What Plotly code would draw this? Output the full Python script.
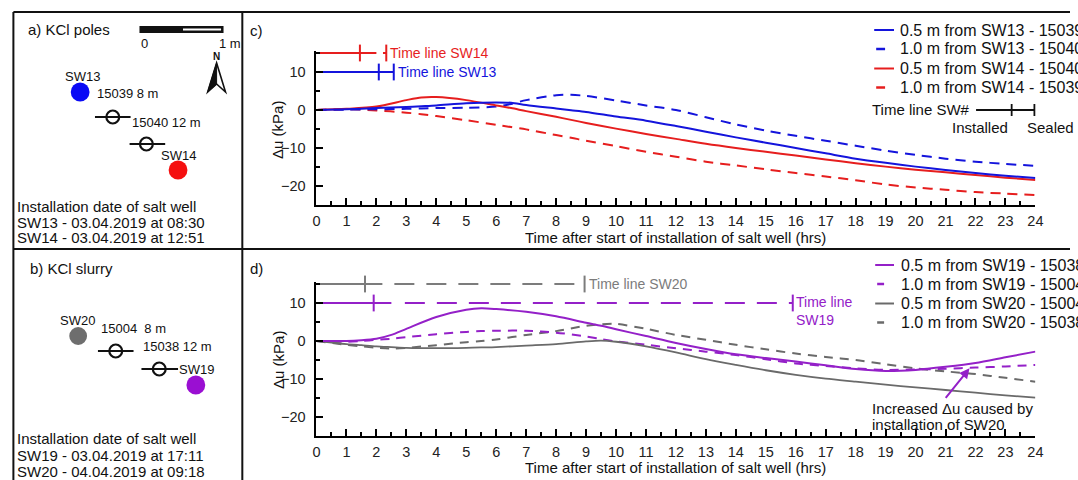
import plotly.graph_objects as go

W, H = 1078, 480
FONT = "Liberation Sans, Arial, sans-serif"

# ---------------- data: panel c ----------------
t_c = [0, 1, 2, 3, 3.5, 4, 5, 6, 6.5, 7, 8, 8.5, 9, 10, 11, 12, 13, 14, 15, 16, 17, 18, 19, 20, 21, 22, 23, 24]
sw13_05 = [0, 0.2, 0.5, 0.8, 1.0, 1.2, 1.8, 2.0, 1.9, 1.3, 0.4, -0.05, -0.5, -1.7, -2.8, -4.2, -5.7, -7.2, -8.6, -10.0, -11.4, -12.8, -13.9, -14.9, -15.8, -16.6, -17.3, -17.9]
sw13_10 = [0, 0.1, 0.2, 0.3, 0.4, 0.5, 0.6, 0.9, 1.6, 2.6, 3.9, 4.0, 3.7, 2.5, 1.2, 0.0, -1.9, -3.8, -5.4, -6.8, -8.1, -9.4, -10.7, -11.8, -12.8, -13.6, -14.2, -14.7]
sw14_05 = [0, 0.3, 0.9, 2.6, 3.3, 3.4, 2.6, 1.2, 0.5, -0.3, -1.8, -2.6, -3.4, -4.9, -6.3, -7.6, -8.9, -10.0, -11.0, -12.0, -13.0, -14.0, -14.9, -15.7, -16.4, -17.1, -17.8, -18.4]
sw14_10 = [0, 0.2, -0.1, -0.7, -1.1, -1.6, -2.7, -3.9, -4.5, -5.1, -6.6, -7.3, -8.1, -9.5, -11.0, -12.3, -13.6, -14.6, -15.6, -16.6, -17.5, -18.5, -19.6, -20.4, -21.0, -21.6, -22.0, -22.4]

# ---------------- data: panel d ----------------
t_d = [0, 1, 1.5, 2, 2.5, 3, 4, 5, 5.5, 6, 7, 8, 9, 9.5, 10, 11, 12, 13, 14, 15, 16, 17, 18, 19, 20, 21, 22, 23, 24]
sw19_05 = [0, 0.0, 0.2, 0.6, 1.6, 3.2, 6.3, 8.2, 8.6, 8.4, 7.7, 6.5, 4.8, 4.0, 3.1, 1.3, -0.5, -2.1, -3.5, -4.5, -5.4, -6.4, -7.4, -7.9, -7.6, -6.8, -5.8, -4.3, -2.8]
sw19_10 = [0, -0.2, 0.0, 0.3, 0.6, 1.0, 1.8, 2.4, 2.6, 2.7, 2.7, 2.2, 1.2, 0.5, -0.1, -1.0, -1.9, -2.8, -3.7, -4.8, -5.9, -6.6, -7.2, -7.6, -7.5, -7.3, -7.0, -6.7, -6.3]
sw20_05 = [0, -0.8, -1.1, -1.4, -1.6, -1.8, -1.9, -1.8, -1.7, -1.6, -1.2, -0.8, -0.1, 0.1, -0.2, -1.4, -3.0, -4.8, -6.3, -7.7, -8.9, -9.9, -10.7, -11.5, -12.2, -12.9, -13.6, -14.3, -14.9]
sw20_10 = [0, -1.0, -1.4, -1.8, -2.0, -1.8, -1.1, -0.3, 0.0, 0.4, 1.6, 2.6, 4.0, 4.4, 4.5, 3.2, 1.6, 0.3, -1.0, -2.2, -3.3, -4.2, -5.0, -6.1, -7.2, -8.0, -8.7, -9.7, -10.7]

# time lines: [level, solid_end, dash_start, installed, sealed]
tl_sw14 = [15, 2.0, 2.22, 1.45, 2.33]
tl_sw13 = [10, 2.58, 2.58, 2.08, 2.58]
tl_sw20 = [15, 2.2, 2.6, 1.62, 8.95]
tl_sw19 = [10, 2.5, 2.95, 1.91, 15.9]

hour_ticks = list(range(0, 25))
du_ticks = [-20, -10, 0, 10]

BLUE = "#1414dc"
RED = "#e61e1e"
PURPLE = "#9420c8"
GREY = "#6a6a6a"
GREY_TL = "#7c7c7c"

# pixel geometry
X0, X1 = 316, 1043
PPK = 3.8
YMIN, YMAX = -25, 15.4
C_BOT = 205
D_BOT = 436


def px(x):
    return x / W


def py(y):
    return 1 - y / H


fig = go.Figure()


def curve(x, y, color, dash, xa, ya, width=2):
    fig.add_trace(go.Scatter(x=x, y=y, mode="lines", xaxis=xa, yaxis=ya,
                             line=dict(color=color, width=width, dash=dash, shape="spline", smoothing=0.8),
                             showlegend=False, hoverinfo="skip"))


curve(t_c, sw14_10, RED, "10px,7px", "x", "y")
curve(t_c, sw13_10, BLUE, "10px,7px", "x", "y")
curve(t_c, sw14_05, RED, "solid", "x", "y")
curve(t_c, sw13_05, BLUE, "solid", "x", "y")

curve(t_d, sw20_10, GREY, "9px,7px", "x2", "y2", 2)
curve(t_d, sw19_10, PURPLE, "9px,7px", "x2", "y2")
curve(t_d, sw20_05, GREY, "solid", "x2", "y2", 1.8)
curve(t_d, sw19_05, PURPLE, "solid", "x2", "y2")


def timeline(tl, color, xa, ya, label, two_line=False):
    lvl, s_end, d_start, inst, seal = tl
    fig.add_trace(go.Scatter(x=[0, s_end], y=[lvl, lvl], mode="lines", xaxis=xa, yaxis=ya,
                             line=dict(color=color, width=2), showlegend=False, hoverinfo="skip",
                             cliponaxis=False))
    if seal > d_start:
        fig.add_trace(go.Scatter(x=[d_start, seal], y=[lvl, lvl], mode="lines", xaxis=xa, yaxis=ya,
                                 line=dict(color=color, width=2, dash="20px,12px"),
                                 showlegend=False, hoverinfo="skip", cliponaxis=False))
    fig.add_trace(go.Scatter(x=[inst, seal], y=[lvl, lvl], mode="markers", xaxis=xa, yaxis=ya,
                             marker=dict(symbol="line-ns", size=12, line=dict(color=color, width=2)),
                             showlegend=False, hoverinfo="skip", cliponaxis=False))
    if two_line:
        fig.add_annotation(x=seal, y=lvl, xref=xa, yref=ya, text=label, showarrow=False,
                           xanchor="left", yanchor="top", yshift=11, xshift=1, align="left",
                           font=dict(family=FONT, size=14, color=color))
    else:
        fig.add_annotation(x=seal, y=lvl, xref=xa, yref=ya, text=label, showarrow=False,
                           xanchor="left", yanchor="middle", xshift=2,
                           font=dict(family=FONT, size=14, color=color))


timeline(tl_sw14, RED, "x", "y", "Time line SW14")
timeline(tl_sw13, BLUE, "x", "y", "Time line SW13")
timeline(tl_sw20, GREY_TL, "x2", "y2", "Time line SW20")
timeline(tl_sw19, PURPLE, "x2", "y2", "Time line<br>SW19", two_line=True)

# axes
xdom = [px(X0), px(X1)]
c_dom = [py(C_BOT), py(C_BOT - (YMAX - YMIN) * PPK)]
d_dom = [py(D_BOT), py(D_BOT - (YMAX - YMIN) * PPK)]

xcommon = dict(range=[0, 24], tickmode="array", tickvals=hour_ticks, ticks="inside", ticklen=7,
               tickwidth=1.5, tickcolor="black", showline=True, linewidth=2, linecolor="black",
               showgrid=False, zeroline=False, tickfont=dict(family=FONT, size=14.5, color="#222"),
               minor=dict(tick0=0, dtick=0.5, ticks="inside", ticklen=4, tickwidth=1.5,
                          tickcolor="black", showgrid=False),
               ticklabelstandoff=2, domain=xdom)
ycommon = dict(range=[YMIN, YMAX], tickmode="array", tickvals=du_ticks, ticks="inside", ticklen=7,
               tickwidth=1.5, tickcolor="black", showline=True, linewidth=2, linecolor="black",
               showgrid=False, zeroline=False, tickfont=dict(family=FONT, size=14.5, color="#222"),
               minor=dict(tick0=0, dtick=5, ticks="inside", ticklen=4, tickwidth=1.5,
                          tickcolor="black", showgrid=False),
               ticklabelstandoff=6)

fig.update_layout(
    width=W, height=H, margin=dict(l=0, r=0, t=0, b=0), autosize=False,
    paper_bgcolor="white", plot_bgcolor="white",
    xaxis=dict(**xcommon, anchor="y"),
    yaxis=dict(**ycommon, domain=c_dom, anchor="x"),
    xaxis2=dict(**xcommon, anchor="y2"),
    yaxis2=dict(**ycommon, domain=d_dom, anchor="x2"),
    showlegend=False,
    font=dict(family=FONT, size=15, color="#111"),
)


def ptext(x, y, text, size=15, anchor="left", color="#111", bold=False):
    if bold:
        text = "<b>" + text + "</b>"
    fig.add_annotation(x=px(x), y=py(y), xref="paper", yref="paper", text=text, showarrow=False,
                       xanchor=anchor, yanchor="middle", font=dict(family=FONT, size=size, color=color),
                       borderpad=0)


def pline(x0, y0, x1, y1, color="#111", width=2, dash="solid"):
    fig.add_shape(type="line", xref="paper", yref="paper", x0=px(x0), y0=py(y0), x1=px(x1), y1=py(y1),
                  line=dict(color=color, width=width, dash=dash))


def pcircle(cx, cy, r, fill=None, color="#111", width=2):
    fig.add_shape(type="circle", xref="paper", yref="paper", x0=px(cx - r), x1=px(cx + r),
                  y0=py(cy + r), y1=py(cy - r), fillcolor=fill if fill else "rgba(0,0,0,0)",
                  line=dict(color=color if not fill else fill, width=width if not fill else 0))


def prect(x0, y0, x1, y1, fill, color=None, width=0):
    fig.add_shape(type="rect", xref="paper", yref="paper", x0=px(x0), x1=px(x1), y0=py(y1), y1=py(y0),
                  fillcolor=fill, line=dict(color=color or fill, width=width))


def ppath(points, fill=None, color="#111", width=1.5):
    d = "M " + " L ".join(f"{px(a):.5f} {py(b):.5f}" for a, b in points) + " Z"
    fig.add_shape(type="path", xref="paper", yref="paper", path=d,
                  fillcolor=fill if fill else "rgba(0,0,0,0)", line=dict(color=color, width=width))


# frame lines
pline(9.5, 12, W, 12)
pline(9.5, 12, 9.5, H)
pline(241, 12, 241, H)
pline(9.5, 249, W, 249)

# axis titles
ptext(679, 237.5, "Time after start of installation of salt well (hrs)", anchor="center")
ptext(679, 467, "Time after start of installation of salt well (hrs)", anchor="center")
for yc in (130, 360):
    fig.add_annotation(x=px(277), y=py(yc), xref="paper", yref="paper", text="Δu (kPa)", textangle=-90,
                       xanchor="center", yanchor="middle",
                       showarrow=False, font=dict(family=FONT, size=15, color="#111"))

# panel labels
ptext(248, 30, "c)")
ptext(248, 268, "d)")

# legend panel c
leg_c = [("0.5 m from SW13 - 15039", BLUE, False), ("1.0 m from SW13 - 15040", BLUE, True),
         ("0.5 m from SW14 - 15040", RED, False), ("1.0 m from SW14 - 15039", RED, True)]
for (lab, col, dsh), yy in zip(leg_c, [30, 49, 68.5, 87.5]):
    if dsh:
        pline(882, yy, 891, yy, color=col, width=2.5)
    else:
        pline(880, yy, 900, yy, color=col, width=2)
    ptext(905, yy, lab, size=16)
ptext(877, 110, "Time line SW#")
pline(983, 110, 1042, 110, width=1.8)
pline(1019, 104, 1019, 116, width=1.8)
pline(1042, 104, 1042, 116, width=1.8)
ptext(987, 127, "Installed", anchor="center")
ptext(1033, 127, "Sealed")

# legend panel d
leg_d = [("0.5 m from SW19 - 15038", PURPLE, False), ("1.0 m from SW19 - 15004", PURPLE, True),
         ("0.5 m from SW20 - 15004", GREY, False), ("1.0 m from SW20 - 15038", GREY, True)]
for (lab, col, dsh), yy in zip(leg_d, [265, 284, 303.5, 322.5]):
    if dsh:
        pline(883, yy, 890, yy, color=col, width=2.5)
    else:
        pline(881, yy, 900, yy, color=col, width=2)
    ptext(906, yy, lab, size=16)

# annotation with arrow
fig.add_annotation(x=21.8, y=-7.2, xref="x2", yref="y2", ax=-25, ay=31, axref="pixel", ayref="pixel",
                   text="", showarrow=True, arrowhead=2, arrowsize=1, arrowwidth=2, arrowcolor=PURPLE)
ptext(877, 408, "Increased Δu caused by")
ptext(877, 424, "installation of SW20")

# ---------------- panel a ----------------
ptext(23, 29, "a) KCl poles")
prect(137, 26, 222, 33, "#111")
prect(181, 28.6, 219.5, 30.6, "white")
ptext(142, 43, "0", size=13, anchor="center")
ptext(229, 43, "1 m", size=13, anchor="center")
ptext(214.5, 56, "N", size=10, anchor="center", bold=True)
ppath([(215, 63), (206, 92), (215, 84)], fill="#111", color="#111", width=1)
ppath([(215, 63), (206, 92), (215, 84), (224, 92)], color="#111", width=1.6)
ptext(79, 76, "SW13", size=13, anchor="center")
pcircle(77, 92, 9.5, fill="#0a0af5")
ptext(93, 94, "15039 8 m", size=13)
pline(92, 117, 128, 117)
pcircle(110, 117, 6.5, width=2.2)
ptext(128, 122, "15040 12 m", size=13)
pline(127, 144, 163, 144)
pcircle(144, 144, 6.5, width=2.2)
ptext(176, 155, "SW14", size=13, anchor="center")
pcircle(176, 170, 9.5, fill="#f51010")
ptext(12, 206.5, "Installation date of salt well")
ptext(12, 222, "SW13 - 03.04.2019 at 08:30")
ptext(12, 237.5, "SW14 - 03.04.2019 at 12:51")

# ---------------- panel b ----------------
ptext(25, 268, "b) KCl slurry")
ptext(74, 320, "SW20", size=13, anchor="center")
pcircle(75, 336, 9, fill="#6e6e6e")
ptext(97, 328, "15004&nbsp;&nbsp;8 m", size=13)
pline(95, 351, 131, 351)
pcircle(113, 351, 6.5, width=2.2)
ptext(140, 346, "15038 12 m", size=13)
pline(139, 369, 176, 369)
pcircle(157, 369, 6.5, width=2.2)
ptext(176, 369, "SW19", size=13)
pcircle(194, 385, 9.5, fill="#9a0fd2")
ptext(12, 438, "Installation date of salt well")
ptext(12, 455, "SW19 - 03.04.2019 at 17:11")
ptext(12, 471.5, "SW20 - 04.04.2019 at 09:18")

fig.write_html("out.html", config={"responsive": False, "displayModeBar": False},
               post_script="document.body.style.margin='0';document.body.style.overflow='hidden';")
